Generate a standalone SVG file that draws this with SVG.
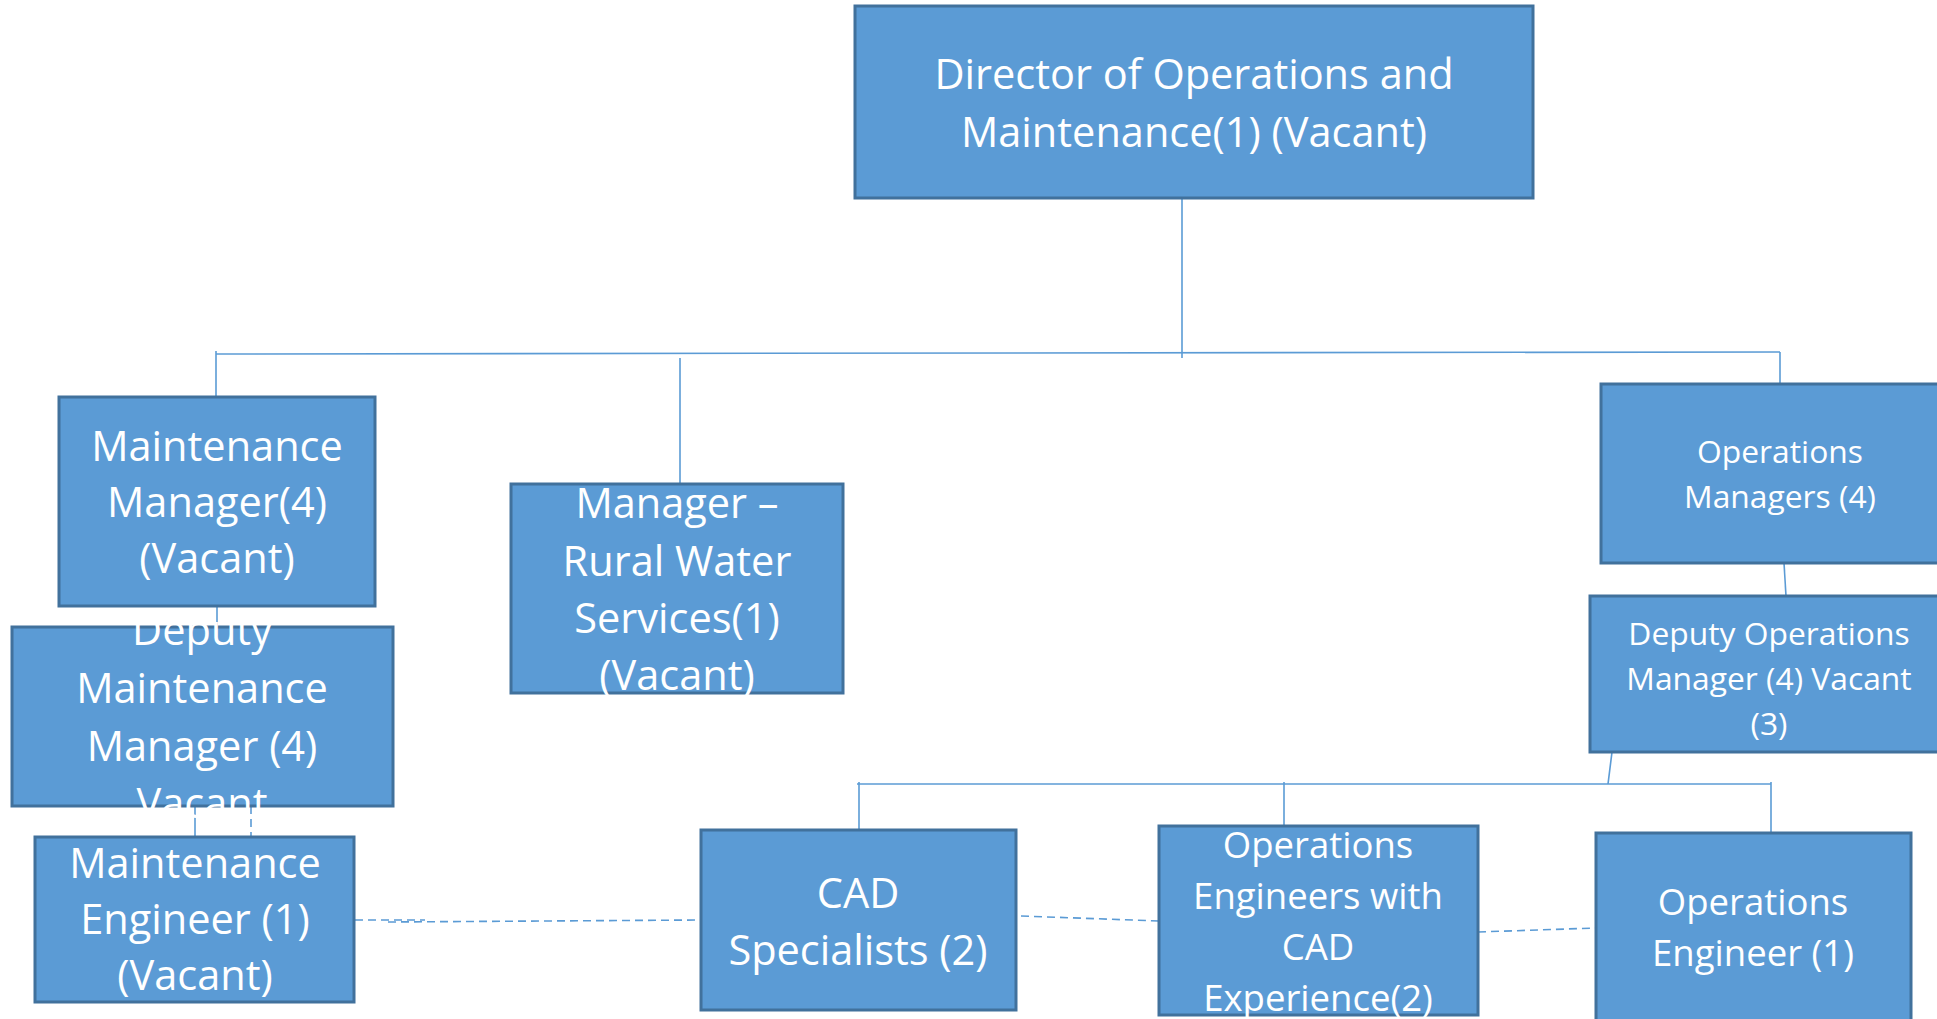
<svg xmlns="http://www.w3.org/2000/svg" width="1937" height="1019" viewBox="0 0 1937 1019">
<style>
.box{fill:#5B9BD5;stroke:#41719C;stroke-width:3}
.t{font-family:"Open Sans","Liberation Sans",sans-serif;fill:#FFFFFF;text-anchor:middle}
.big{font-size:41.5px}
.mid{font-size:36.5px}
.sm{font-size:31.8px}
.ln{stroke:#5B9BD5;stroke-width:1.6;fill:none}
.ds{stroke:#5B9BD5;stroke-width:1.6;fill:none;stroke-dasharray:8 5}
</style>
<rect width="1937" height="1019" fill="#FFFFFF"/>
<g id="connectors">
<line class="ln" x1="1182" y1="198" x2="1182" y2="358"/>
<line class="ln" x1="216" y1="354" x2="1780" y2="352"/>
<line class="ln" x1="216" y1="351" x2="216" y2="397"/>
<line class="ln" x1="680" y1="358" x2="680" y2="484"/>
<line class="ln" x1="1780" y1="352" x2="1780" y2="384"/>
<line class="ln" x1="217" y1="606" x2="217" y2="627"/>
<line class="ln" x1="195" y1="806" x2="195" y2="837"/>
<line class="ds" x1="251" y1="806" x2="251" y2="837"/>
<line class="ds" x1="355" y1="920" x2="425" y2="920"/>
<line class="ds" x1="388" y1="922" x2="701" y2="920"/>
<line class="ln" x1="1784" y1="563" x2="1786" y2="596"/>
<line class="ln" x1="1612" y1="752" x2="1608" y2="784"/>
<line class="ln" x1="857" y1="784" x2="1771" y2="784"/>
<line class="ln" x1="859" y1="782" x2="859" y2="830"/>
<line class="ln" x1="1284" y1="782" x2="1284" y2="826"/>
<line class="ln" x1="1771" y1="782" x2="1771" y2="833"/>
<line class="ds" x1="1021" y1="916" x2="1159" y2="921"/>
<line class="ds" x1="1478" y1="932" x2="1596" y2="928"/>
</g>
<g id="director">
<rect class="box" x="855" y="6" width="678" height="192"/>
<text class="t big" x="1194" y="89">Director of Operations and</text>
<text class="t big" x="1194" y="147">Maintenance(1) (Vacant)</text>
</g>
<g id="maintenance-manager">
<rect class="box" x="59" y="397" width="316" height="209"/>
<text class="t big" x="217" y="461">Maintenance</text>
<text class="t big" x="217" y="517">Manager(4)</text>
<text class="t big" x="217" y="573">(Vacant)</text>
</g>
<g id="deputy-maintenance-manager">
<rect class="box" x="12" y="627" width="381" height="179"/>
<text class="t big" x="202" y="645">Deputy</text>
<text class="t big" x="202" y="703">Maintenance</text>
<text class="t big" x="202" y="761">Manager (4)</text>
<text class="t big" x="202" y="818">Vacant</text>
</g>
<g id="maintenance-engineer">
<rect class="box" x="35" y="837" width="319" height="165"/>
<text class="t big" x="195" y="878">Maintenance</text>
<text class="t big" x="195" y="934">Engineer (1)</text>
<text class="t big" x="195" y="990">(Vacant)</text>
</g>
<g id="rural-water-manager">
<rect class="box" x="511" y="484" width="332" height="209"/>
<text class="t big" x="677" y="518">Manager –</text>
<text class="t big" x="677" y="576">Rural Water</text>
<text class="t big" x="677" y="633">Services(1)</text>
<text class="t big" x="677" y="690">(Vacant)</text>
</g>
<g id="operations-managers">
<rect class="box" x="1601" y="384" width="358" height="179"/>
<text class="t sm" x="1780" y="463">Operations</text>
<text class="t sm" x="1780" y="508">Managers (4)</text>
</g>
<g id="deputy-operations-manager">
<rect class="box" x="1590" y="596" width="358" height="156"/>
<text class="t sm" x="1769" y="645">Deputy Operations</text>
<text class="t sm" x="1769" y="690">Manager (4) Vacant</text>
<text class="t sm" x="1769" y="735">(3)</text>
</g>
<g id="cad-specialists">
<rect class="box" x="701" y="830" width="315" height="180"/>
<text class="t big" x="858" y="908">CAD</text>
<text class="t big" x="858" y="965">Specialists (2)</text>
</g>
<g id="operations-engineers-cad">
<rect class="box" x="1159" y="826" width="319" height="189"/>
<text class="t mid" x="1318" y="858">Operations</text>
<text class="t mid" x="1318" y="909">Engineers with</text>
<text class="t mid" x="1318" y="960">CAD</text>
<text class="t mid" x="1318" y="1011">Experience(2)</text>
</g>
<g id="operations-engineer">
<rect class="box" x="1596" y="833" width="315" height="200"/>
<text class="t mid" x="1753" y="915">Operations</text>
<text class="t mid" x="1753" y="966">Engineer (1)</text>
</g>
</svg>
